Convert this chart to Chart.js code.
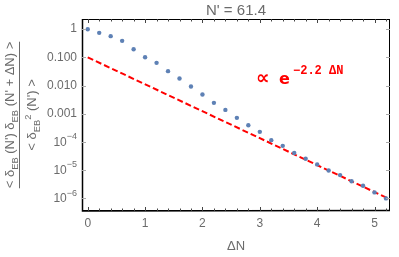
<!DOCTYPE html>
<html>
<head>
<meta charset="utf-8">
<script src="https://cdn.jsdelivr.net/npm/chart.js@4/dist/chart.umd.min.js"></script>
<style>
  html, body { margin: 0; padding: 0; background: #fff; }
</style>
</head>
<body>
<canvas id="corrChart" width="399" height="257"></canvas>
<script>
// values
const deltaN = [0, 0.2, 0.4, 0.6, 0.8, 1.0, 1.2, 1.4, 1.6, 1.8, 2.0, 2.2, 2.4, 2.6,
                2.8, 3.0, 3.2, 3.4, 3.6, 3.8, 4.0, 4.2, 4.4, 4.6, 4.8, 5.0, 5.2];
const corr = [1, 0.74, 0.565, 0.385, 0.195, 0.101, 0.0637, 0.0323, 0.0178, 0.00925,
              0.00481, 0.00242, 0.00136, 7.1e-4, 3.9e-4, 2.26e-4, 1.15e-4, 7.2e-5,
              4.0e-5, 2.5e-5, 1.58e-5, 9.6e-6, 6.6e-6, 4.0e-6, 2.75e-6, 1.6e-6, 0.98e-6];
const fitX = [0, 5.26];
const fitY = [0.1, 9.3e-7];

const xTicks = [0, 1, 2, 3, 4, 5];
const xMinorTicks = [0.2, 0.4, 0.6, 0.8, 1.2, 1.4, 1.6, 1.8, 2.2, 2.4, 2.6, 2.8,
                     3.2, 3.4, 3.6, 3.8, 4.2, 4.4, 4.6, 4.8, 5.2];
const yTicks = [1, 0.1, 0.01, 0.001, 1e-4, 1e-5, 1e-6];
const yTickLabels = ["1", "0.100", "0.010", "0.001", "10^-4", "10^-5", "10^-6"];

const titleText = "N' = 61.4";
const xTitle = "\u0394N";

const GRAY = "#6b6b6b";
const FONT = "'Liberation Sans', Arial, sans-serif";

// draw a run of [text, kind] pieces, kind: n / sub / sup
function runWidth(ctx, parts, size) {
    let w = 0;
    parts.forEach(p => {
        ctx.font = (p[1] === "n" ? size : size * 0.72) + "px " + FONT;
        w += ctx.measureText(p[0]).width;
    });
    return w;
}
function drawRun(ctx, parts, x, y, size) {
    parts.forEach(p => {
        const small = p[1] !== "n";
        ctx.font = (small ? size * 0.72 : size) + "px " + FONT;
        let dy = 0;
        if (p[1] === "sub") dy = size * 0.28;
        if (p[1] === "sup") dy = -size * 0.42;
        ctx.fillText(p[0], x, y + dy);
        x += ctx.measureText(p[0]).width;
    });
}

const decorPlugin = {
    id: "decor",
    afterDraw(chart) {
        const ctx = chart.ctx;
        const a = chart.chartArea;
        const xs = chart.scales.x;
        const ys = chart.scales.y;
        ctx.save();

        // frame
        ctx.strokeStyle = "#000";
        ctx.lineWidth = 1;
        ctx.strokeRect(a.left + 0.5, a.top + 0.5, a.right - a.left - 1, a.bottom - a.top - 1);
        ctx.lineWidth = 1.5;
        ctx.beginPath();
        ctx.moveTo(a.left + 0.5, a.top);
        ctx.lineTo(a.left + 0.5, a.bottom);
        ctx.lineTo(a.right, a.bottom - 0.5);
        ctx.stroke();

        // x ticks, bottom and top, pointing inward
        ctx.lineWidth = 1;
        ctx.strokeStyle = "#444";
        const xTick = (v, len) => {
            const px = Math.round(xs.getPixelForValue(v)) + 0.5;
            ctx.beginPath();
            ctx.moveTo(px, a.bottom); ctx.lineTo(px, a.bottom - len);
            ctx.moveTo(px, a.top); ctx.lineTo(px, a.top + len);
            ctx.stroke();
        };
        xTicks.forEach(v => xTick(v, 4));
        xMinorTicks.forEach(v => xTick(v, 2.5));

        // y ticks, left and right
        ctx.strokeStyle = "#aaa";
        yTicks.forEach(v => {
            const py = Math.round(ys.getPixelForValue(v)) + 0.5;
            ctx.beginPath();
            ctx.moveTo(a.left, py); ctx.lineTo(a.left + 4, py);
            ctx.moveTo(a.right, py); ctx.lineTo(a.right - 4, py);
            ctx.stroke();
        });

        // y tick labels
        ctx.fillStyle = GRAY;
        ctx.textBaseline = "middle";
        yTicks.forEach((v, i) => {
            const py = ys.getPixelForValue(v);
            const lab = yTickLabels[i];
            ctx.textAlign = "right";
            if (lab.indexOf("^") < 0) {
                ctx.font = "12px " + FONT;
                ctx.fillText(lab, a.left - 5, py);
            } else {
                const [base, ex] = lab.split("^");
                const exTxt = ex.replace("-", "\u2212");
                ctx.font = "9px " + FONT;
                const ew = ctx.measureText(exTxt).width;
                ctx.fillText(exTxt, a.left - 5, py - 5);
                ctx.font = "12px " + FONT;
                ctx.fillText(base, a.left - 5 - ew, py + 1);
            }
        });

        // title
        ctx.textAlign = "center";
        ctx.textBaseline = "alphabetic";
        ctx.font = "15px " + FONT;
        ctx.fillText(titleText, (a.left + a.right) / 2, 15);

        // x axis title
        ctx.font = "13px " + FONT;
        ctx.fillText(xTitle, (a.left + a.right) / 2, 250);

        // y axis title: rotated fraction
        const num = [["< \u03b4", "n"], ["EB", "sub"], [" (N') \u03b4", "n"], ["EB", "sub"], [" (N' + \u0394N) >", "n"]];
        const den = [["< \u03b4", "n"], ["EB", "sub"], ["2", "sup"], [" (N') >", "n"]];
        const cy = (a.top + a.bottom) / 2;
        ctx.translate(0, cy);
        ctx.rotate(-Math.PI / 2);
        ctx.textAlign = "left";
        const fs = 13;
        const nw = runWidth(ctx, num, fs);
        const dw = runWidth(ctx, den, fs);
        drawRun(ctx, num, -nw / 2, 14, fs);
        drawRun(ctx, den, -dw / 2, 36, fs);
        ctx.strokeStyle = GRAY;
        ctx.lineWidth = 1;
        ctx.beginPath();
        ctx.moveTo(-nw / 2, 19.5);
        ctx.lineTo(nw / 2, 19.5);
        ctx.stroke();
        ctx.setTransform(1, 0, 0, 1, 0, 0);

        // annotation
        ctx.fillStyle = "#ff0000";
        ctx.textAlign = "left";
        ctx.font = "bold 19px 'DejaVu Sans', sans-serif";
        ctx.fillText("\u221d", 256, 84);
        ctx.font = "bold 16px 'DejaVu Sans', sans-serif";
        ctx.fillText("e", 279, 84);
        ctx.font = "bold 12px 'Liberation Mono', monospace";
        ctx.fillText("\u22122.2 \u0394N", 293, 74);

        ctx.restore();
    }
};

const ctx = document.getElementById("corrChart").getContext("2d");
new Chart(ctx, {
    type: "scatter",
    data: {
        datasets: [
            {
                type: "line",
                data: fitX.map((x, i) => ({ x: x, y: fitY[i] })),
                borderColor: "#ff0000",
                borderWidth: 2,
                borderDash: [6, 3],
                pointRadius: 0,
                fill: false,
                order: 2
            },
            {
                data: deltaN.map((x, i) => ({ x: x, y: corr[i] })),
                backgroundColor: "#5e81b5",
                borderWidth: 0,
                pointRadius: 2.2,
                order: 1
            }
        ]
    },
    plugins: [decorPlugin],
    options: {
        responsive: false,
        animation: false,
        devicePixelRatio: 1,
        layout: { padding: { left: 0, right: 9, top: 19, bottom: 0 } },
        plugins: { legend: { display: false }, tooltip: { enabled: false } },
        scales: {
            x: {
                type: "linear",
                min: -0.1,
                max: 5.27,
                afterBuildTicks: s => { s.ticks = xTicks.map(v => ({ value: v })); },
                afterFit: s => { s.height = 46; },
                grid: { display: false, drawTicks: false },
                border: { display: false },
                ticks: { color: GRAY, font: { size: 12, family: FONT }, padding: 5 }
            },
            y: {
                type: "logarithmic",
                min: 3.5e-7,
                max: 2.3,
                afterBuildTicks: s => { s.ticks = yTicks.map(v => ({ value: v })); },
                afterFit: s => { s.width = 82; },
                grid: { display: false },
                border: { display: false },
                ticks: { display: false }
            }
        }
    }
});
</script>
</body>
</html>
